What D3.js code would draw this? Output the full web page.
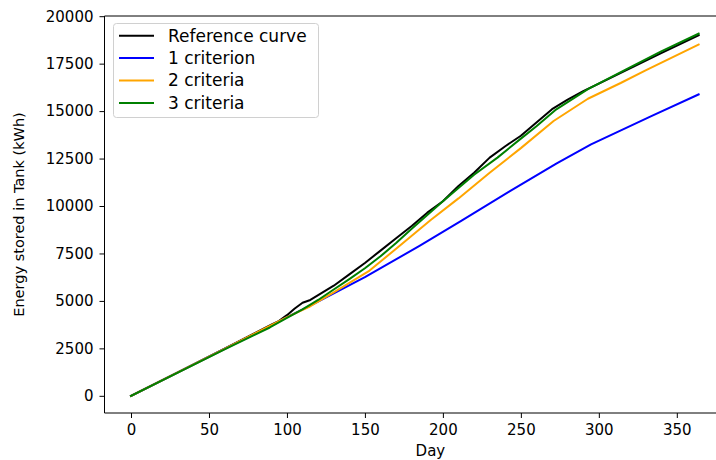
<!DOCTYPE html>
<html><head><meta charset="utf-8">
<script src="https://cdn.jsdelivr.net/npm/d3@7"></script>
<style>
html,body{margin:0;padding:0;background:#fff;}
svg text{font-family:"DejaVu Sans",sans-serif;fill:#000;}
</style></head>
<body><svg id="c" width="716" height="460"></svg>
<script>
const xTicks = [0, 50, 100, 150, 200, 250, 300, 350];
const yTicks = [0, 2500, 5000, 7500, 10000, 12500, 15000, 17500, 20000];

const refDays = [0, 30, 60, 80, 90, 95, 100, 105, 110, 115, 120, 130, 140, 150, 160, 170, 180, 190, 200, 210, 220, 230, 240, 250, 260, 270, 280, 290, 300, 320, 340, 364];
const refVals = [0, 1230, 2480, 3330, 3750, 3950, 4250, 4600, 4900, 5050, 5300, 5800, 6400, 7000, 7650, 8300, 8950, 9650, 10250, 11050, 11750, 12550, 13150, 13700, 14400, 15100, 15600, 16050, 16450, 17250, 18050, 19000];

const c1Days = [0, 30, 60, 89, 100, 115, 150, 185, 212, 243, 273, 295, 334, 364];
const c1Vals = [0, 1230, 2470, 3650, 4150, 4750, 6250, 7900, 9230, 10780, 12250, 13250, 14750, 15880];

const c2Days = [0, 30, 60, 89, 100, 115, 130, 153, 170, 192, 210, 230, 250, 271, 293, 314, 330, 364];
const c2Vals = [0, 1230, 2470, 3680, 4150, 4720, 5450, 6600, 7750, 9250, 10400, 11750, 13050, 14480, 15650, 16480, 17150, 18510];

const c3Days = [0, 30, 60, 89, 100, 110, 120, 130, 140, 150, 160, 170, 180, 190, 200, 210, 220, 235, 250, 260, 272, 293, 320, 340, 364];
const c3Vals = [0, 1220, 2450, 3600, 4100, 4550, 5050, 5600, 6150, 6720, 7350, 8050, 8800, 9520, 10250, 10950, 11650, 12550, 13550, 14200, 15050, 16160, 17300, 18150, 19080];

const seriesNames = ["Reference curve", "1 criterion", "2 criteria", "3 criteria"];
const seriesColors = ["#000000", "#0000ff", "#ffa500", "#008000"];
const seriesData = [[refDays, refVals], [c1Days, c1Vals], [c2Days, c2Vals], [c3Days, c3Vals]];

const svg = d3.select("#c");
const L = 104.5, T = 16, B = 413;
const x = d3.scaleLinear().domain([-17, 383]).range([L, L + 400 * 1.5594]);
const y = d3.scaleLinear().domain([-905, 20010]).range([B, T]);

const line = d3.line().x(d => x(d[0])).y(d => y(d[1]));
seriesData.forEach((s, i) => {
  const pts = s[0].map((d, j) => [d, s[1][j]]);
  svg.append("path").datum(pts).attr("d", line)
    .attr("fill", "none").attr("stroke", seriesColors[i])
    .attr("stroke-width", 2).attr("stroke-linejoin", "round").attr("stroke-linecap", "square");
});

const gx = svg.append("g").attr("transform", `translate(0,${B})`)
  .call(d3.axisBottom(x).tickValues(xTicks).tickSize(5).tickPadding(6).tickFormat(d3.format("d")));
const gy = svg.append("g").attr("transform", `translate(${L},0)`)
  .call(d3.axisLeft(y).tickValues(yTicks).tickSize(5).tickPadding(6).tickFormat(d3.format("d")));
[gx, gy].forEach(g => {
  g.select(".domain").remove();
  g.selectAll(".tick line").attr("stroke", "#000").attr("stroke-width", 1);
  g.selectAll(".tick text").attr("font-size", 15).attr("font-family", "DejaVu Sans").attr("fill", "#000");
});
svg.append("line").attr("x1", L).attr("x2", L).attr("y1", T).attr("y2", B).attr("stroke", "#000").attr("stroke-width", 1);
svg.append("line").attr("x1", L).attr("x2", 716).attr("y1", B).attr("y2", B).attr("stroke", "#000").attr("stroke-width", 1);
svg.append("line").attr("x1", L).attr("x2", 716).attr("y1", T).attr("y2", T).attr("stroke", "#000").attr("stroke-width", 1);

svg.append("text").attr("x", x(192)).attr("y", 456).attr("text-anchor", "middle").attr("font-size", 15).text("Day");
svg.append("text").attr("transform", `translate(24,${(T + B) / 2}) rotate(-90)`).attr("text-anchor", "middle").attr("font-size", 14.5).text("Energy stored in Tank (kWh)");

const lg = svg.append("g");
lg.append("rect").attr("x", 113.5).attr("y", 23.5).attr("width", 205).attr("height", 94).attr("rx", 3)
  .attr("fill", "#fff").attr("fill-opacity", 0.8).attr("stroke", "#d0d0d0");
seriesNames.forEach((n, i) => {
  const yy = 35.7 + i * 22.4;
  lg.append("line").attr("x1", 119).attr("x2", 154).attr("y1", yy).attr("y2", yy).attr("stroke", seriesColors[i]).attr("stroke-width", 2);
  lg.append("text").attr("x", 168).attr("y", yy).attr("dy", "0.35em").attr("font-size", 17).text(n);
});
</script></body></html>
